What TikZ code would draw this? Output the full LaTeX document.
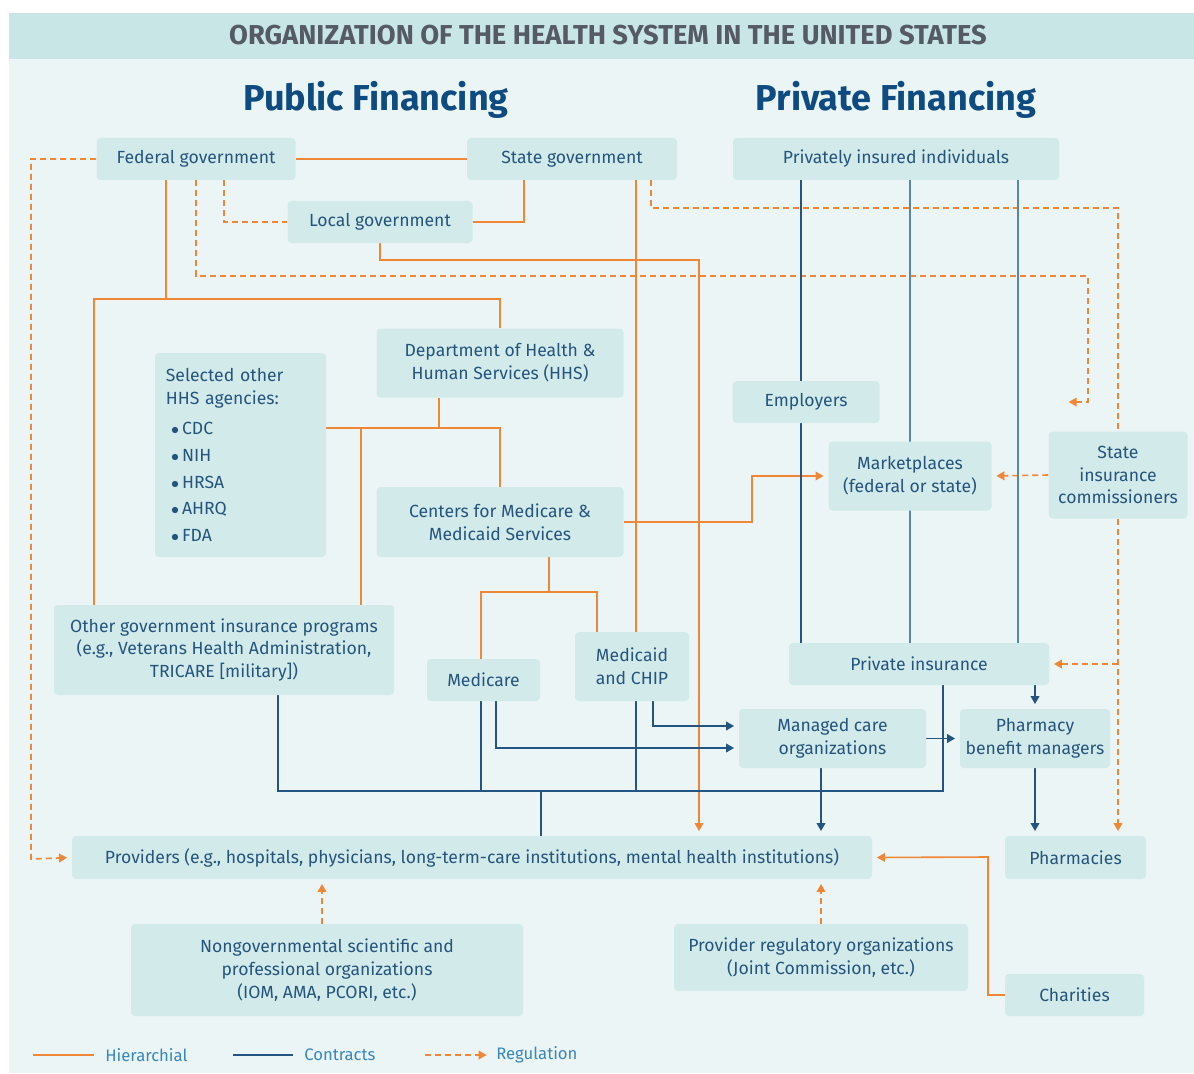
\documentclass[tikz,border=0pt]{standalone}
\usepackage{fontspec}
\setmainfont{Fira Sans}
\usetikzlibrary{arrows.meta}

\definecolor{panelbg}{RGB}{235,245,245}
\definecolor{bandbg}{RGB}{200,230,230}
\definecolor{boxfill}{RGB}{210,235,234}
\definecolor{boxtext}{RGB}{37,84,125}
\definecolor{titletext}{RGB}{85,90,100}
\definecolor{headtext}{RGB}{14,75,128}
\definecolor{hiercol}{RGB}{240,135,55}
\definecolor{concol}{RGB}{35,85,130}
\definecolor{conlight}{RGB}{85,135,175}
\definecolor{legtext}{RGB}{55,135,190}

\pgfdeclarelayer{panel}
\pgfdeclarelayer{wires}
\pgfsetlayers{panel,wires,main}

\tikzset{every picture/.style={line width=0.75pt}}
\tikzset{
  box/.style={fill=boxfill, rounded corners=3pt, text=boxtext, align=center, inner sep=0pt,
    font=\fontsize{13.2}{17}\selectfont},
  hier/.style={draw=hiercol, line width=1.2pt},
  con/.style={draw=concol, line width=1.2pt},
  conlt/.style={draw=conlight, line width=1.2pt},
  reg/.style={draw=hiercol, line width=1.2pt, dash pattern=on 4.5pt off 3pt},
  arr/.style={-{Triangle[length=6pt,width=6.5pt]}, shorten >=3.5pt},
  legend/.style={anchor=west, inner sep=0pt, text=legtext, font=\fontsize{12.5}{14}\selectfont},
}

\begin{document}
\begin{tikzpicture}[x=0.75pt,y=0.75pt,yscale=-1,xscale=1]
\useasboundingbox (0,0) rectangle (1194,1073);

% Background panel and title band
\begin{pgfonlayer}{panel}
\fill[panelbg] (9,13) rectangle (1194,1073);
\fill[bandbg] (9,13) rectangle (1194,59);
\end{pgfonlayer}

% Titles
\node[text=titletext, font=\fontsize{20.5}{24}\bfseries] (title) at (608,35) {ORGANIZATION OF THE HEALTH SYSTEM IN THE UNITED STATES};
\node[text=headtext, font=\fontsize{27}{31}\bfseries] (pubhd) at (376,100) {Public Financing};
\node[text=headtext, font=\fontsize{27}{31}\bfseries] (privhd) at (896,100) {Private Financing};

% Top row
\node[box, minimum width=149.25pt, minimum height=31.5pt] (fed) at (196,159) {Federal government};
\node[box, minimum width=157.5pt, minimum height=31.5pt] (state) at (572,159) {State government};
\node[box, minimum width=244.5pt, minimum height=31.5pt] (priv) at (896,159) {Privately insured individuals};
\node[box, minimum width=138.75pt, minimum height=31.5pt] (local) at (380,222) {Local government};

% HHS and agencies
\node[box, minimum width=185.25pt, minimum height=51.75pt] (hhs) at (500,363) {Department of Health \&\\Human Services (HHS)};
\node[box, minimum width=128.25pt, minimum height=153pt, text width=112pt, align=left, inner xsep=8pt] (agencies) at (240.5,455)
  {Selected other\\HHS agencies:\\[6pt]
   \hspace*{4pt}$\bullet$\,CDC\\[3pt]
   \hspace*{4pt}$\bullet$\,NIH\\[3pt]
   \hspace*{4pt}$\bullet$\,HRSA\\[3pt]
   \hspace*{4pt}$\bullet$\,AHRQ\\[3pt]
   \hspace*{4pt}$\bullet$\,FDA};
\node[box, minimum width=185.25pt, minimum height=52.5pt] (cms) at (500,522) {Centers for Medicare \&\\Medicaid Services};

% Private side
\node[box, minimum width=110.25pt, minimum height=31.5pt] (empl) at (806,402) {Employers};
\node[box, minimum width=122.25pt, minimum height=51.75pt] (market) at (910,476) {Marketplaces\\(federal or state)};
\node[box, minimum width=104.25pt, minimum height=65.25pt] (commis) at (1118,475) {State\\insurance\\commissioners};

% Programs
\node[box, minimum width=255pt, minimum height=67.5pt] (oth) at (224,650) {Other government insurance programs\\(e.g., Veterans Health Administration,\\TRICARE [military])};
\node[box, minimum width=84.75pt, minimum height=31.5pt] (medicare) at (483.5,680) {Medicare};
\node[box, minimum width=85.5pt, minimum height=51.75pt] (medicaid) at (632,666.5) {Medicaid\\and CHIP};
\node[box, minimum width=195pt, minimum height=31.5pt] (pins) at (919,664) {Private insurance};
\node[box, minimum width=140.25pt, minimum height=44.25pt] (mco) at (832.5,738.5) {Managed care\\organizations};
\node[box, minimum width=112.5pt, minimum height=44.25pt] (pbm) at (1035,738.5) {Pharmacy\\benefit managers};

% Bottom rows
\node[box, minimum width=600pt, minimum height=32.25pt] (prov) at (472,857.5) {Providers (e.g., hospitals, physicians, long-term-care institutions, mental health institutions)};
\node[box, minimum width=105.75pt, minimum height=32.25pt] (pharm) at (1075.5,857.5) {Pharmacies};
\node[box, minimum width=294pt, minimum height=69pt] (ngo) at (327,970) {Nongovernmental scientific and\\professional organizations\\(IOM, AMA, PCORI, etc.)};
\node[box, minimum width=220.5pt, minimum height=50.25pt] (preg) at (821,957.5) {Provider regulatory organizations\\(Joint Commission, etc.)};
\node[box, minimum width=104.25pt, minimum height=31.5pt] (char) at (1074.5,995) {Charities};

% Bends and junctions
\coordinate (fedbus) at (166,299);
\coordinate (hhsbus) at (439,428);
\coordinate (cmsbus) at (549,592);
\coordinate (locbend) at (699,260);
\coordinate (mkbend) at (752,476);
\coordinate (chbend) at (988,857);
\coordinate (regleft) at (31,859);
\coordinate (regmid) at (1088,276);
\coordinate (emplreg) at (1064,402);
\coordinate (stbend) at (651,208);
\coordinate (conbus) at (541,791);

\begin{pgfonlayer}{wires}
% Hierarchial
\draw[hier] (fed.east) -- (state.west);
\draw[hier] (524,0 |- state.south) |- (local.east);
\draw[hier] (fedbus |- fed.south) -- (fedbus);
\draw[hier] (94,0 |- oth.north) |- (fedbus) -| (hhs.north);
\draw[hier] (hhsbus |- hhs.south) -- (hhsbus);
\draw[hier] (agencies.east |- hhsbus) -| (cms.north);
\draw[hier] (361,0 |- hhsbus) -- (361,0 |- oth.north);
\draw[hier] (cmsbus |- cms.south) -- (cmsbus);
\draw[hier] (481,0 |- medicare.north) |- (cmsbus) -| (597,0 |- medicaid.north);
\draw[hier] (636,0 |- state.south) -- (636,0 |- medicaid.north);
\draw[hier, arr] (local.south) |- (locbend) -- (locbend |- prov.north);
\draw[hier, arr] (cms.east) -| (mkbend) -- (market.west);
\draw[hier, arr] (char.west) -| (chbend) -- (prov.east);

% Regulation
\draw[reg, arr] (fed.west) -| (regleft) -- (prov.west);
\draw[reg] (224,0 |- fed.south) |- (local.west);
\draw[reg, arr] (fed.south) |- (regmid) |- (emplreg);
\draw[reg] (stbend |- state.south) -- (stbend) -| (commis.north);
\draw[reg, arr] (commis.south) -- (commis.south |- pharm.north);
\draw[reg, arr] (commis.south |- pins.east) -- (pins.east);
\draw[reg, arr] (commis.west) -- (market.east);
\draw[reg, arr] (322,0 |- ngo.north) -- (322,0 |- prov.south);
\draw[reg, arr] (preg.north) -- (preg.north |- prov.south);

% Contracts
\draw[con] (801,0 |- priv.south) -- (801,0 |- pins.north);
\draw[conlt] (market.north |- priv.south) -- (market.north |- pins.north);
\draw[conlt] (1018,0 |- priv.south) -- (1018,0 |- pins.north);
\draw[con, arr] (pbm.north |- pins.south) -- (pbm.north);
\draw[con] (278,0 |- oth.south) |- (943,0 |- conbus) -- (943,0 |- pins.south);
\draw[con] (481,0 |- medicare.south) -- (481,0 |- conbus);
\draw[con] (636,0 |- medicaid.south) -- (636,0 |- conbus);
\draw[con] (conbus) -- (conbus |- prov.north);
\draw[con, arr] (496,0 |- medicare.south) |- (mco.west |- 0,748);
\draw[con, arr] (653,0 |- medicaid.south) |- (mco.west |- 0,726);
\draw[con, arr] (821,0 |- mco.south) -- (821,0 |- prov.north);
\draw[con, arr] (mco.east) -- (pbm.west);
\draw[con, arr] (pbm.south) -- (pbm.south |- pharm.north);
\end{pgfonlayer}

% Legend
\node[legend] (lghier) at (105,1055) {Hierarchial};
\node[legend] (lgcon) at (304,1055) {Contracts};
\node[legend] (lgreg) at (496,1055) {Regulation};
\coordinate (lghiera) at (33,1055);
\coordinate (lgcona) at (233,1055);
\coordinate (lgrega) at (425,1055);
\draw[hier] (lghiera) -- ([xshift=-8pt]lghier.west);
\draw[con] (lgcona) -- ([xshift=-8pt]lgcon.west);
\draw[reg, -{Triangle[length=6pt,width=6.5pt]}] (lgrega) -- ([xshift=-7pt]lgreg.west);
\end{tikzpicture}
\end{document}
